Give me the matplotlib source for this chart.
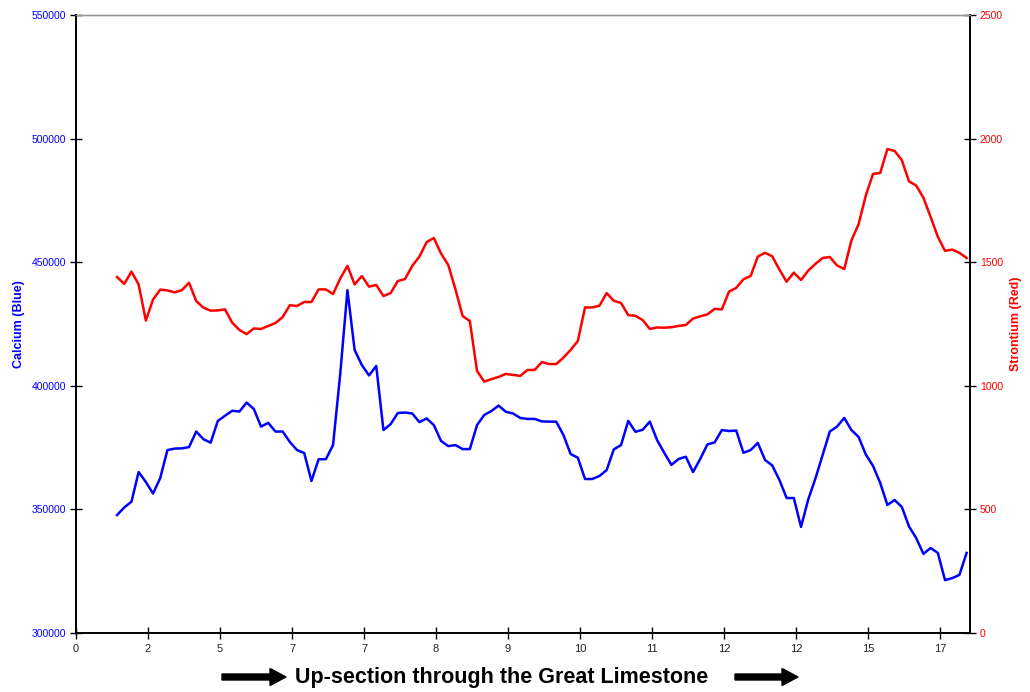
import numpy as np
import matplotlib
matplotlib.use("Agg")
import matplotlib.pyplot as plt
from matplotlib.patches import FancyArrow

plt.rcParams['font.family'] = ['Liberation Sans', 'DejaVu Sans']

# ---- data ----
x_tick_labels = ["0", "2", "5", "7", "7", "8", "9", "10", "11", "12", "12", "15", "17"]

calcium = [347700, 350800, 353100, 365100, 361100, 356400, 362700, 374000, 374600, 374700,
           375200, 381500, 378400, 377000, 385800, 387900, 389900, 389600, 393200, 390600,
           383500, 385000, 381500, 381500, 377300, 374000, 372800, 361500, 370300, 370300,
           376000, 404800, 438700, 414500, 408400, 404200, 408000, 382100, 384500, 389000,
           389200, 388800, 385300, 386800, 384100, 377700, 375600, 376000, 374400, 374400,
           384100, 388200, 389800, 392000, 389500, 388800, 387000, 386600, 386600, 385600,
           385500, 385500, 380100, 372400, 370900, 362300, 362300, 363500, 365900, 374300,
           376000, 385800, 381400, 382200, 385500, 378100, 372900, 368000, 370400, 371300,
           365100, 370400, 376300, 377100, 382100, 381700, 381900, 372900, 374000, 376900,
           370000, 367800, 361900, 354600, 354600, 342900, 354000, 362500, 372000, 381500,
           383500, 387000, 382100, 379300, 372200, 367600, 360700, 351800, 353800, 351000,
           343100, 338400, 332000, 334400, 332400, 321400, 322200, 323500, 332400]

strontium = [1440, 1412, 1462, 1410, 1264, 1349, 1389, 1386, 1378, 1387,
             1417, 1343, 1316, 1304, 1305, 1309, 1255, 1226, 1209, 1232,
             1230, 1242, 1254, 1278, 1326, 1323, 1339, 1339, 1390, 1390,
             1371, 1434, 1485, 1410, 1444, 1401, 1408, 1363, 1375, 1424,
             1432, 1485, 1523, 1581, 1598, 1535, 1489, 1391, 1282, 1262,
             1060, 1017, 1027, 1036, 1048, 1044, 1040, 1064, 1064, 1096,
             1088, 1088, 1114, 1145, 1181, 1317, 1317, 1324, 1375, 1344,
             1335, 1286, 1283, 1266, 1230, 1236, 1235, 1237, 1242, 1246,
             1272, 1281, 1289, 1311, 1309, 1381, 1396, 1431, 1444, 1523,
             1538, 1524, 1470, 1421, 1458, 1428, 1466, 1493, 1517, 1521,
             1487, 1472, 1588, 1654, 1770, 1857, 1861, 1958, 1950, 1913,
             1827, 1810, 1761, 1683, 1603, 1546, 1551, 1538, 1517]

first_category = 5.7          # first sampled row (category units)
categories_per_tick = 10
n_categories = 124.17

# ---- figure ----
W, H = 1030, 692
fig = plt.figure(figsize=(W / 100, H / 100), dpi=100)
L, R, T, B = 76, 970, 15, 633
ax = fig.add_axes([L / W, 1 - B / H, (R - L) / W, (B - T) / H])
ax2 = ax.twinx()

xs = first_category + np.arange(len(calcium))
ax.plot(xs, calcium, color="#0000FF", lw=1.8, solid_joinstyle="round", zorder=3)
ax2.plot(xs, strontium, color="#FF0000", lw=1.8, solid_joinstyle="round", zorder=3)

ax.set_xlim(0, n_categories)
ax.set_ylim(300000, 550000)
ax2.set_ylim(0, 2500)

ax.set_xticks(np.arange(len(x_tick_labels)) * categories_per_tick)
ax.set_xticklabels(x_tick_labels)
ax.set_yticks(np.arange(300000, 550001, 50000))
ax2.set_yticks(np.arange(0, 2501, 500))

ax.tick_params(axis="x", direction="inout", length=8, width=1, labelsize=8,
               labelcolor="#222222", pad=4)
ax.tick_params(axis="y", direction="inout", length=8, width=1, labelsize=7.5,
               labelcolor="#0000FF", pad=3)
ax2.tick_params(axis="y", direction="inout", length=8, width=1, labelsize=7.5,
                labelcolor="#FF0000", pad=3)

for a in (ax, ax2):
    for s in ("left", "right", "bottom"):
        a.spines[s].set_color("black")
        a.spines[s].set_linewidth(1.2)
    a.spines["top"].set_color("#999999")
    a.spines["top"].set_linewidth(1.0)

ax.set_ylabel("Calcium (Blue)", color="#0000FF", fontsize=9, fontweight="bold")
ax.yaxis.set_label_coords(-51 / (R - L), 0.5)
ax2.set_ylabel("Strontium (Red)", color="#FF0000", fontsize=9, fontweight="bold")
ax2.yaxis.set_label_coords(1 + 40 / (R - L), 0.5)

# bottom caption with arrows
fig.text(502 / W, 1 - 677 / H, "Up-section through the Great Limestone",
         ha="center", va="center", fontsize=15.5, fontweight="bold", color="black")
ya = 1 - 677 / H
for x0, x1 in ((222, 286), (735, 798)):
    fig.patches.append(FancyArrow(x0 / W, ya, (x1 - x0) / W, 0,
                                  width=6 / H, head_width=17 / H, head_length=16 / W,
                                  length_includes_head=True, color="black",
                                  transform=fig.transFigure, figure=fig))

fig.savefig("out.png", dpi=100)
